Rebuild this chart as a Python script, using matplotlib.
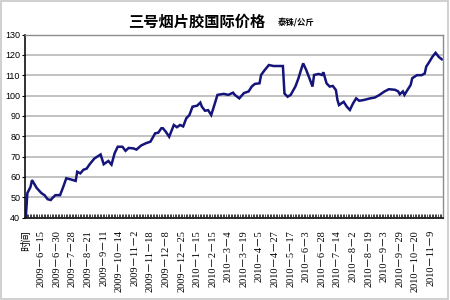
import matplotlib
matplotlib.use("Agg")
import matplotlib.pyplot as plt
import numpy as np
from matplotlib.patches import Rectangle

plt.rcParams['font.family'] = ['Liberation Sans', 'Noto Sans CJK SC', 'DejaVu Sans']

# 数据：类别序号（交易日）与价格（泰铢/公斤）
day_idx = [0, 1, 2, 3, 4, 7, 10, 12, 14, 16, 17, 19, 22, 24, 26, 29, 32, 33, 35, 37,
           39, 41, 44, 48, 50, 53, 55, 57, 59, 62, 64, 66, 69, 71, 74, 77, 80, 83, 85, 87,
           88, 90, 92, 95, 97, 99, 101, 103, 105, 107, 110, 112, 113, 115, 117, 119, 121, 123, 127, 130,
           133, 134, 137, 140, 143, 145, 147, 150, 151, 153, 156, 159, 165, 166, 168, 170, 173, 175, 177, 178,
           180, 182, 184, 185, 188, 190, 191, 193, 195, 197, 199, 200, 201, 204, 206, 208, 210, 212, 214, 217,
           221, 224, 227, 230, 233, 237, 239, 240, 242, 243, 245, 247, 248, 251, 254, 256, 257, 259, 261, 263,
           265, 267]
price = [40, 52, 53.5, 55, 58.4, 54.5, 52, 51, 49, 48.6, 49.5, 51, 51, 55, 59.3, 58.7, 58, 62.5, 61.7, 63.5,
         64, 66.2, 69, 71, 66.2, 67.8, 66, 71.6, 74.8, 74.8, 72.8, 74.2, 74, 73.4, 75.4, 76.5, 77.3, 81.4, 81.7, 83.9,
         83.9, 82, 79.7, 85.5, 84.4, 85.5, 84.8, 88.8, 90.4, 94.5, 95, 96.5, 94.5, 92.5, 92.8, 90.4, 95.3, 100.3, 100.8, 100.3,
         101.4, 100.4, 98.6, 101.2, 102, 104.4, 105.7, 106, 110.1, 112.2, 115, 114.5, 114.5, 101, 99.4, 100.3, 104.4, 108.5, 113.5, 115.8,
         112.5, 108.5, 104.4, 110.1, 110.6, 110.1, 111.4, 106, 104.4, 104.7, 102.7, 97.8, 95.3, 96.9, 94.5, 92.9, 96.1, 98.6, 97.4, 97.8,
         98.6, 99, 100.3, 101.9, 103.1, 102.8, 102, 100.6, 102, 100.3, 102.8, 105.2, 108.5, 110, 110, 110.8, 114.2, 116.6, 119.1, 121,
         119, 117.8]

n_days = 268
x_labels = ['时间', '2009－6－15', '2009－6－30', '2009－7－28', '2009－8－21', '2009－9－11',
            '2009－10－14', '2009－11－2', '2009－11－18', '2009－12－8', '2009－12－25',
            '2010－1－15', '2010－2－15', '2010－3－4', '2010－3－19', '2010－4－5', '2010－4－27',
            '2010－5－17', '2010－6－3', '2010－6－28', '2010－7－14', '2010－8－2', '2010－8－19',
            '2010－9－3', '2010－9－29', '2010－10－20', '2010－11－9']

fig = plt.figure(figsize=(4.5, 3), dpi=100)
ax = fig.add_axes([0.0556, 0.275, 0.928, 0.61])

ax.plot(day_idx, price, color="#14147a", linewidth=1.8, solid_joinstyle="miter")

ax.set_xlim(-0.5, n_days - 0.5)
ax.set_ylim(40, 130)
ax.set_yticks(np.arange(40, 131, 10))
ax.grid(axis="y", color="#b8b8b8", linewidth=1.2)
ax.set_axisbelow(True)

# x 轴：每个交易日一个刻度，每 10 个标一次
ax.set_xticks(np.arange(0, n_days, 10))
ax.set_xticklabels(x_labels, rotation=90, va="top", ha="center",
                   family=['Liberation Serif', 'Noto Sans CJK SC'], fontsize=7.5)
ax.set_xticks(np.arange(-0.5, n_days, 1), minor=True)
ax.tick_params(axis="x", which="major", length=0, pad=9)
ax.tick_params(axis="x", which="minor", length=3, direction="in", width=0.6, color="#202020")
ax.tick_params(axis="y", length=2, direction="out", labelsize=6.5, pad=1.5)

for s in ["left", "bottom"]:
    ax.spines[s].set_color("#101010")
    ax.spines[s].set_linewidth(1.2)
for s in ["top", "right"]:
    ax.spines[s].set_color("#8c8c8c")
    ax.spines[s].set_linewidth(1.0)

fig.text(0.437, 0.927, "三号烟片胶国际价格", ha="center", va="center",
         fontsize=11, fontweight="bold", family=['Noto Sans CJK SC'])
fig.text(0.618, 0.923, "泰铢/公斤", ha="left", va="center",
         fontsize=6, fontweight="bold", family=['Noto Sans CJK SC'])

fig.patches.append(Rectangle((0.002, 0.003), 0.994, 0.993, transform=fig.transFigure,
                             fill=False, edgecolor="#c8c8c8", linewidth=1.2))

fig.savefig("out.png", dpi=100)
